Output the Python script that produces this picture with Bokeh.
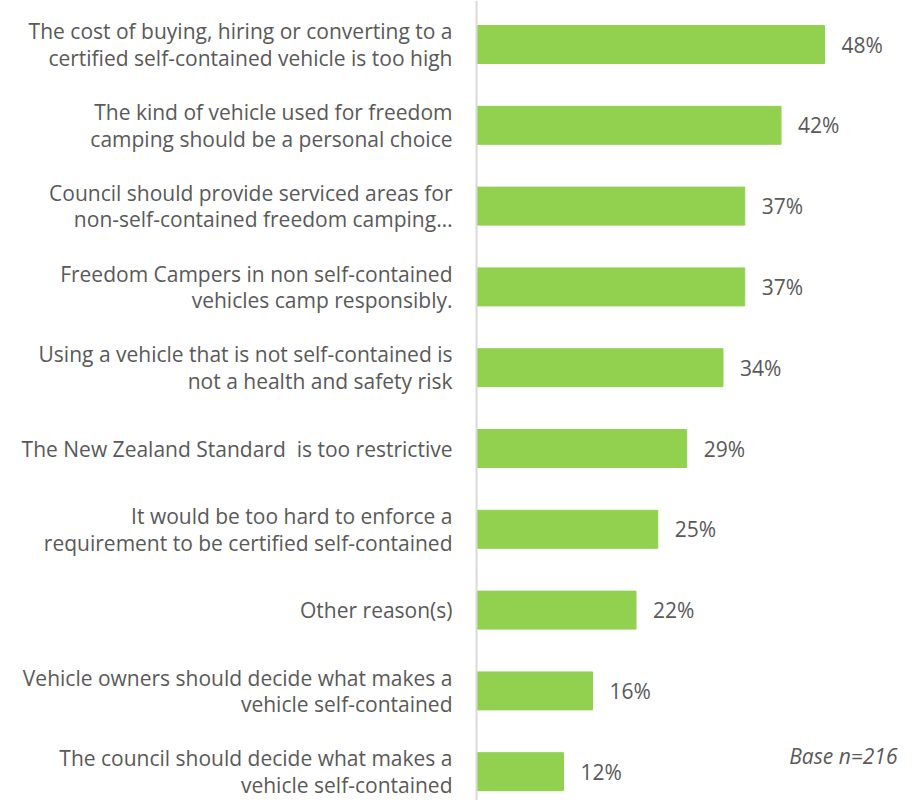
from bokeh.plotting import figure
from bokeh.models import Range1d, Span, Label, ColumnDataSource
from bokeh.core.properties import value
from bokeh.embed import file_html
from bokeh.resources import INLINE

categories = [
    "The cost of buying, hiring or converting to a\ncertified self-contained vehicle is too high",
    "The kind of vehicle used for freedom\ncamping should be a personal choice",
    "Council should provide serviced areas for\nnon-self-contained freedom camping\u2026",
    "Freedom Campers in non self-contained\nvehicles camp responsibly.",
    "Using a vehicle that is not self-contained is\nnot a health and safety risk",
    "The New Zealand Standard\u00a0 is too restrictive",
    "It would be too hard to enforce a\nrequirement to be certified self-contained",
    "Other reason(s)",
    "Vehicle owners should decide what makes a\nvehicle self-contained",
    "The council should decide what makes a\nvehicle self-contained",
]
values = [48, 42, 37, 37, 34, 29, 25, 22, 16, 12]
value_labels = ["48%", "42%", "37%", "37%", "34%", "29%", "25%", "22%", "16%", "12%"]
note = "Base n=216"

FONT = "Open Sans"
TXT = "#595959"
W, H = 905, 800
x0_px, px_per = 476, 7.25
y0_px, row_px = 44, 80.8

src = ColumnDataSource(dict(
    y=list(range(len(categories))), v=values, cat=categories, lab=value_labels,
    zero=[0] * len(values),
))

p = figure(width=W, height=H, output_backend="svg", toolbar_location=None,
           x_range=Range1d(-x0_px / px_per, (W - x0_px) / px_per),
           y_range=Range1d((H - y0_px) / row_px, -y0_px / row_px),
           min_border=0, outline_line_color=None)
p.axis.visible = False
p.grid.visible = False

p.hbar(y="y", left=0, right="v", height=0.47, color="#92D050", source=src)

p.add_layout(Span(location=0, dimension="height", line_color="#D9D9D9", line_width=2))

p.text(x="v", y="y", text="lab", source=src, x_offset=17, text_align="left",
       text_baseline="middle", text_font=value(FONT), text_font_size="21px", text_color=TXT)
p.text(x="zero", y="y", text="cat", source=src, x_offset=-24, text_align="right",
       text_baseline="middle", text_font=value(FONT), text_font_size="21px", text_color=TXT,
       text_line_height=0.95)

p.add_layout(Label(x=(897 - x0_px) / px_per, y=(755 - y0_px) / row_px, text=note,
                   text_align="right", text_baseline="middle", text_font=FONT,
                   text_font_size="21px", text_font_style="italic", text_color=TXT))

open("out.html", "w").write(file_html(p, INLINE))
